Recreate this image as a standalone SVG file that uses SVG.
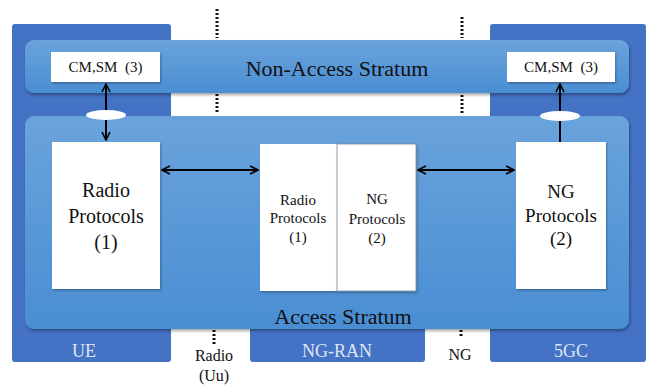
<svg xmlns="http://www.w3.org/2000/svg" width="653" height="385" viewBox="0 0 653 385">
<style>
.outer{fill:#4472c4;}
.band{fill:url(#bandg);filter:url(#sh);}
.box{fill:#ffffff;filter:url(#sh2);}
.t{fill:#111;text-anchor:middle;font-family:"Liberation Serif","Times New Roman",serif;}
.lab{fill:#dfe6f7;text-anchor:middle;font-size:18px;font-family:"Liberation Serif","Times New Roman",serif;}
.dot{stroke:#111;stroke-width:3;stroke-dasharray:2 2;fill:none;}
.ar{stroke:#000;stroke-width:2;fill:none;}
</style>
<defs>
<linearGradient id="bandg" x1="0" y1="0" x2="0" y2="1">
<stop offset="0" stop-color="#6aa3dc"/>
<stop offset="1" stop-color="#4a8ed3"/>
</linearGradient>
<filter id="sh" x="-5%" y="-10%" width="110%" height="120%">
<feDropShadow dx="1" dy="2" stdDeviation="1.5" flood-color="#000" flood-opacity="0.35"/>
</filter>
<filter id="sh2" x="-10%" y="-10%" width="120%" height="120%">
<feDropShadow dx="1" dy="1.5" stdDeviation="1" flood-color="#000" flood-opacity="0.3"/>
</filter>
<marker id="ah" viewBox="0 0 10 10" refX="9" refY="5" markerWidth="5" markerHeight="5" orient="auto-start-reverse" markerUnits="strokeWidth">
<path d="M1,1 L9,5 L1,9" fill="none" stroke="#000" stroke-width="1.6"/>
</marker>
</defs>
<rect width="653" height="385" fill="#ffffff"/>

<g id="dividers">
<line class="dot" x1="217" y1="9" x2="217" y2="38"/>
<line class="dot" x1="217" y1="94" x2="217" y2="114"/>
<line class="dot" x1="214" y1="330" x2="214" y2="345"/>
<line class="dot" x1="462" y1="17" x2="462" y2="38"/>
<line class="dot" x1="462" y1="95" x2="462" y2="115"/>
<line class="dot" x1="461" y1="330" x2="461" y2="338"/>
</g>

<g id="ue"><rect class="outer" x="12" y="24" width="159" height="338" rx="3"/><text class="lab" x="84" y="357">UE</text></g>
<g id="ngran"><rect class="outer" x="250" y="300" width="175" height="62" rx="3"/><text class="lab" x="337" y="357">NG-RAN</text></g>
<g id="fivegc"><rect class="outer" x="490" y="24" width="156" height="338" rx="3"/><text class="lab" x="571" y="357">5GC</text></g>

<g id="nas"><rect class="band" x="25" y="40" width="604" height="53" rx="9"/><text class="t" x="337" y="76" font-size="22">Non-Access Stratum</text></g>
<g id="as"><rect class="band" x="25" y="116" width="604" height="213" rx="9"/><text class="t" x="343" y="324" font-size="22">Access Stratum</text></g>

<g id="cmsm-ue"><rect class="box" x="51" y="52" width="109" height="30"/><text class="t" x="105.5" y="72" font-size="15" xml:space="preserve">CM,SM  (3)</text></g>
<g id="cmsm-5gc"><rect class="box" x="507" y="52" width="108" height="30"/><text class="t" x="561" y="72" font-size="15" xml:space="preserve">CM,SM  (3)</text></g>

<g id="rp-ue"><rect class="box" x="52" y="142" width="108" height="147"/>
<text class="t" font-size="20"><tspan x="106" y="197">Radio</tspan><tspan x="106" y="223">Protocols</tspan><tspan x="106" y="249">(1)</tspan></text></g>

<g id="rp-ran"><rect class="box" x="260" y="144" width="77" height="147"/>
<text class="t" font-size="15"><tspan x="298" y="205">Radio</tspan><tspan x="298" y="223">Protocols</tspan><tspan x="298" y="242">(1)</tspan></text></g>
<g id="ng-ran"><rect class="box" x="337" y="144" width="79" height="147" style="stroke:#7a8aa0;stroke-width:0.8"/>
<text class="t" font-size="15"><tspan x="377" y="204">NG</tspan><tspan x="377" y="224">Protocols</tspan><tspan x="377" y="243">(2)</tspan></text></g>

<g id="ng-5gc"><rect class="box" x="516" y="142" width="90" height="147"/>
<text class="t" font-size="19"><tspan x="561" y="198">NG</tspan><tspan x="561" y="222">Protocols</tspan><tspan x="561" y="245">(2)</tspan></text></g>

<g id="connectors">
<line class="ar" x1="106" y1="84" x2="106" y2="140" marker-start="url(#ah)" marker-end="url(#ah)"/>
<line class="ar" x1="560" y1="142" x2="560" y2="84" marker-end="url(#ah)"/>
<line class="ar" x1="162" y1="170" x2="258" y2="170" marker-start="url(#ah)" marker-end="url(#ah)"/>
<line class="ar" x1="418" y1="170" x2="514" y2="170" marker-start="url(#ah)" marker-end="url(#ah)"/>
<ellipse cx="106" cy="115" rx="20" ry="5" fill="#ffffff"/>
<ellipse cx="560" cy="116" rx="20" ry="5" fill="#ffffff"/>
</g>

<g id="iface-labels">
<text class="t" x="214" y="361" font-size="16">Radio</text>
<text class="t" x="214" y="381" font-size="16">(Uu)</text>
<text class="t" x="460" y="360" font-size="16">NG</text>
</g>
</svg>
